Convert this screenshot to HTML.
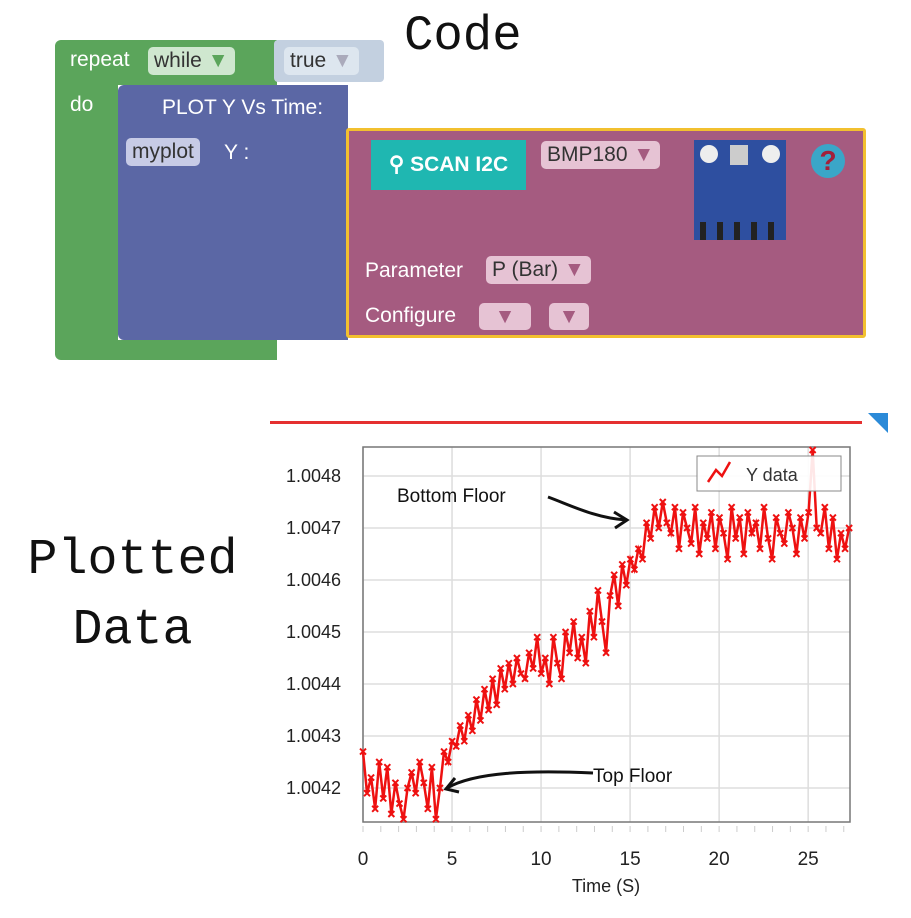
<!DOCTYPE html>
<html><head><meta charset="utf-8"><style>
body{margin:0;width:911px;height:918px;background:#fff;position:relative;overflow:hidden;font-family:"Liberation Sans",sans-serif}
.a{position:absolute}
.pill{position:absolute;border-radius:5px;font-size:21px;line-height:28px;padding:0 6px;color:#333;white-space:nowrap}
.wt{position:absolute;color:#fff;font-size:21px;white-space:nowrap}
</style></head><body>
<div class="a" style="left:404px;top:8px;font:49px 'Liberation Mono',monospace;color:#111">Code</div>
<div class="a" style="left:20px;top:526px;font:50px 'Liberation Mono',monospace;color:#111;line-height:70px;text-align:center;width:225px">Plotted<br>Data</div>

<div>
<div class="a" style="left:55px;top:40px;width:222px;height:45px;background:#5ba55b;border-radius:6px 0 0 0"></div>
<div class="a" style="left:55px;top:80px;width:63px;height:270px;background:#5ba55b"></div>
<div class="a" style="left:55px;top:340px;width:222px;height:20px;background:#5ba55b;border-radius:0 0 0 6px"></div>
<div class="wt" style="left:70px;top:48px">repeat</div>
<div class="pill" style="left:148px;top:47px;background:#cfe7cf">while <span style="color:#5ba55b">▼</span></div>
<div class="wt" style="left:70px;top:93px">do</div>
</div>
<div class="a" style="left:274px;top:40px;width:110px;height:42px;background:#c3d0e0;border-radius:4px">
<div class="pill" style="left:10px;top:7px;background:#dde6ef">true <span style="color:#aab">▼</span></div></div>

<div class="a" style="left:118px;top:85px;width:230px;height:255px;background:#5b67a5;border-radius:6px 0 0 6px">
<div class="wt" style="left:44px;top:11px">PLOT Y Vs Time:</div>
<div class="pill" style="left:8px;top:53px;background:#c7cbe6">myplot</div>
<div class="wt" style="left:106px;top:56px">Y :</div>
</div>

<div class="a" style="left:346px;top:128px;width:514px;height:204px;background:#a55b80;border:3px solid #f2c02f;border-radius:3px">
<div class="a" style="left:22px;top:9px;width:155px;height:50px;background:#1fb7b1;color:#fff;font-weight:bold;font-size:21px;line-height:50px;text-align:center">&#9906; SCAN I2C</div>
<div class="pill" style="left:192px;top:10px;background:#e6c3d4">BMP180 <span style="color:#a55b80">▼</span></div>
<div class="a" style="left:345px;top:9px;width:92px;height:100px;background:#2e4fa0">
<div class="a" style="left:6px;top:5px;width:18px;height:18px;border-radius:50%;background:#eee"></div>
<div class="a" style="left:36px;top:5px;width:18px;height:20px;background:#ccc"></div>
<div class="a" style="left:68px;top:5px;width:18px;height:18px;border-radius:50%;background:#eee"></div>
<div class="a" style="left:6px;top:82px;width:80px;height:18px;background:repeating-linear-gradient(90deg,#222 0 6px,#2e4fa0 6px 17px)"></div></div>
<div class="a" style="left:462px;top:13px;width:34px;height:34px;border-radius:50%;background:#3aa6c8;color:#a3203a;font-weight:bold;font-size:28px;text-align:center;line-height:34px">?</div>
<div class="wt" style="left:16px;top:128px">Parameter</div>
<div class="pill" style="left:137px;top:125px;background:#e6c3d4">P (Bar) <span style="color:#a55b80">▼</span></div>
<div class="wt" style="left:16px;top:173px">Configure</div>
<div class="pill" style="left:130px;top:172px;width:40px;height:27px;text-align:center;background:#e6c3d4;color:#a55b80">▼</div>
<div class="pill" style="left:200px;top:172px;width:28px;height:27px;text-align:center;background:#e6c3d4;color:#a55b80">▼</div>
</div>

<div class="a" style="left:270px;top:421px;width:592px;height:3px;background:#e53030"></div>
<div class="a" style="left:868px;top:413px;width:0;height:0;border-top:20px solid #2b8ad8;border-left:20px solid transparent"></div>

<svg id="chart" class="a" style="left:0;top:0" width="911" height="918"></svg>
<script>
const yOffsets=[1.7,0.9,1.2,0.6,1.5,0.8,1.4,0.5,1.1,0.7,0.4,1.0,1.3,0.9,1.5,1.1,0.6,1.4,
0.4,1.0,1.7,1.5,1.9,
1.8,2.2,1.9,2.4,2.1,2.7,2.3,2.9,2.5,3.1,2.6,3.3,2.9,
3.4,3.0,3.5,3.2,3.1,3.6,3.3,3.9,3.2,
3.5,3.0,3.9,3.4,3.1,4.0,3.6,4.2,3.5,
3.9,3.4,4.4,3.9,4.8,4.2,3.6,4.7,5.1,4.5,5.3,4.9,5.4,
5.2,5.6,5.4,6.1,5.8,6.4,6.0,6.5,6.1,
5.9,6.4,5.6,6.3,6.0,5.7,6.4,5.5,6.1,5.8,6.3,5.6,6.2,5.9,5.4,6.4,5.8,6.2,5.5,6.3,5.9,6.1,5.6,6.4,5.8,5.4,6.2,5.9,5.7,6.3,6.0,5.5,6.2,5.8,6.3,7.5,6.0,5.9,6.4,5.6,6.2,5.4,5.9,5.6,6.0];
const yBase=1.0041;
const tEnd=27.3;
const xTicks=[0,5,10,15,20,25];
const yTicks=[1.0042,1.0043,1.0044,1.0045,1.0046,1.0047,1.0048];
const yTickLabels=["1.0042","1.0043","1.0044","1.0045","1.0046","1.0047","1.0048"];
const L=363,R=850,T=447,B=822;
const X=t=>L+t*(R-L)/27.35;
const Y=v=>788-(v-1.0042)*520000;
const svg=document.getElementById('chart');
const NS='http://www.w3.org/2000/svg';
function mk(tag,at){const e=document.createElementNS(NS,tag);for(const k in at)e.setAttribute(k,at[k]);svg.appendChild(e);return e;}
for(let i=0;i<xTicks.length;i++){const x=X(xTicks[i]);
const g=mk('line',{x1:x,x2:x,y1:T,y2:B,stroke:'#ddd','stroke-width':1.5});


const t=mk('text',{x:x,y:865,'text-anchor':'middle','font-size':19,fill:'#222','font-family':'Liberation Sans, sans-serif'});t.textContent=xTicks[i];

}
for(let t=0;t<=27;t++){mk('line',{x1:X(t),x2:X(t),y1:B+4,y2:B+10,stroke:'#ccc'});}
for(let i=0;i<yTicks.length;i++){const y=Y(yTicks[i]);
const g=mk('line',{x1:L,x2:R,y1:y,y2:y,stroke:'#ddd','stroke-width':1.5});


const t=mk('text',{x:341,y:y+6,'text-anchor':'end','font-size':18,fill:'#222','font-family':'Liberation Sans, sans-serif'});t.textContent=yTickLabels[i];

}
const bx=mk('rect',{x:L,y:T,width:R-L,height:B-T,fill:'none',stroke:'#777','stroke-width':1.5});


const xt=mk('text',{x:606,y:892,'text-anchor':'middle','font-size':18,fill:'#222','font-family':'Liberation Sans, sans-serif'});xt.textContent='Time (S)';


const n=yOffsets.length;
const pts=yOffsets.map((d,i)=>[X(i*tEnd/(n-1)),Y(yBase+d*1e-4)]);
const pl=mk('polyline',{points:pts.map(p=>p.join(',')).join(' '),fill:'none',stroke:'#ee1111','stroke-width':2.5});


pts.forEach(p=>{const m=mk('path',{d:`M${p[0]-3},${p[1]-3}L${p[0]+3},${p[1]+3}M${p[0]+3},${p[1]-3}L${p[0]-3},${p[1]+3}`,stroke:'#ee1111','stroke-width':2});

});
const lg=mk('rect',{x:697,y:456,width:144,height:35,fill:'#fff','fill-opacity':0.9,stroke:'#888'});


mk('polyline',{points:'708,482 716,470 722,476 730,462',fill:'none',stroke:'#ee1111','stroke-width':2.5});
const lt=mk('text',{x:746,y:481,'font-size':18,fill:'#333','font-family':'Liberation Sans, sans-serif'});lt.textContent='Y data';


const a1=mk('text',{x:397,y:502,'font-size':19,fill:'#111','font-family':'Liberation Sans, sans-serif'});a1.textContent='Bottom Floor';


mk('path',{d:'M548,497 C570,505 595,518 626,520',fill:'none',stroke:'#111','stroke-width':3});
mk('path',{d:'M614,512 L627,520 L615,528',fill:'none',stroke:'#111','stroke-width':3});
const a2=mk('text',{x:593,y:782,'font-size':19,fill:'#111','font-family':'Liberation Sans, sans-serif'});a2.textContent='Top Floor';


mk('path',{d:'M593,773 C530,770 475,772 447,788',fill:'none',stroke:'#111','stroke-width':3});
mk('path',{d:'M455,778 L446,789 L459,792',fill:'none',stroke:'#111','stroke-width':3});
</script>
</body></html>
